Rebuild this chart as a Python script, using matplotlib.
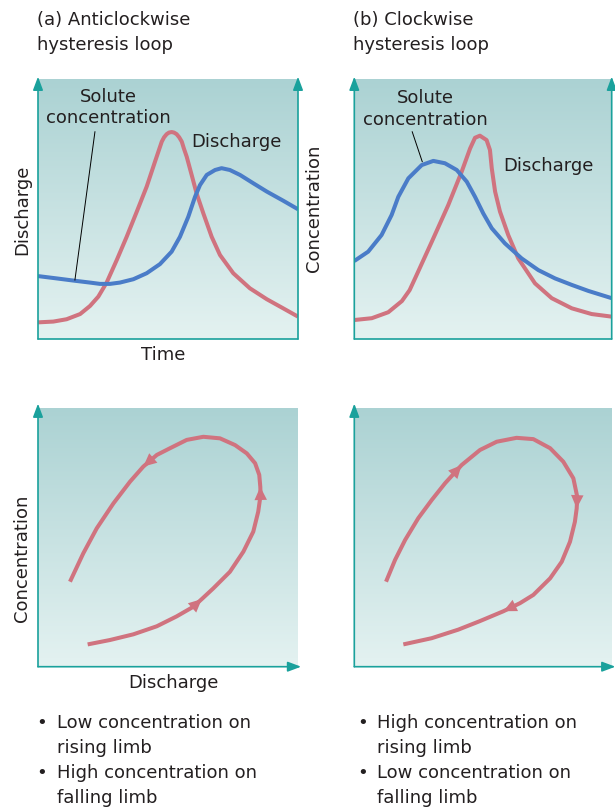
import numpy as np
import matplotlib.pyplot as plt
from matplotlib.colors import LinearSegmentedColormap

plt.rcParams['font.family'] = ['DejaVu Sans']

# --- data (each box is 0..100 in both directions) ---
# (a) storm hydrograph with anticlockwise response
time_a = [0, 5.9, 11.0, 16.2, 20.0, 23.2, 26.4, 30.3, 34.1, 38.0, 41.8, 45.0, 47.6, 48.5,
          49.5, 50.4, 51.4, 52.3, 53.3, 54.3, 55.3, 56.1, 57.2, 59.1, 61.0, 63.6, 66.8,
          70.0, 75.1, 81.5, 88.0, 94.3, 100]
discharge_a = [6.4, 6.7, 7.6, 9.6, 12.7, 16.3, 21.7, 30.4, 39.3, 49.0, 58.6, 68.2, 75.9, 77.6,
               78.8, 79.4, 79.6, 79.4, 78.8, 77.6, 75.9, 73.3, 70.1, 63.1, 56.0, 48.3, 39.3,
               32.3, 25.3, 19.5, 15.3, 11.8, 8.6]
time_a_conc = [0, 7.2, 14.2, 20, 23.8, 27.7, 31.5, 36.7, 41.8, 46.9, 51.4, 54.6, 57.8, 60.4,
               62.3, 64.9, 68.1, 70.6, 73.8, 77.7, 82.8, 88, 94.3, 100]
conc_a = [24.2, 23.3, 22.4, 21.7, 21.2, 21.2, 21.7, 23, 25.3, 28.8, 33.6, 39.3, 47, 54.7,
          59.2, 63.1, 65, 65.7, 65, 63.1, 59.9, 56.7, 53.2, 49.9]

# (b) storm hydrograph with clockwise response
time_b = [0, 6.8, 13.2, 18.5, 21.5, 24.2, 30.1, 36.5, 41.7, 45.0, 46.9, 48.8, 51.4, 52.7,
          53.4, 54.7, 56.6, 59.8, 63.7, 70.2, 76.7, 84.5, 92.2, 100]
discharge_b = [7.3, 8.0, 10.3, 14.6, 18.8, 24.6, 37.4, 51.5, 64.3, 73.3, 77.4, 78.2, 76.5, 72.7,
               65.7, 56.7, 49.0, 40.0, 31.0, 21.4, 15.7, 11.8, 9.6, 8.6]
time_b_conc = [0, 5.4, 10.6, 14.5, 17.1, 21.0, 26.2, 30.7, 35.2, 39.8, 43.7, 46.9, 50.1, 53.4,
               58.5, 65.0, 71.5, 78, 84.5, 90.9, 100]
conc_b = [30.0, 33.6, 40.0, 47.7, 54.7, 61.8, 66.9, 68.5, 67.6, 65.0, 60.5, 54.7, 48.3, 42.6,
          36.8, 31.0, 26.5, 23.3, 20.8, 18.5, 15.7]

# hysteresis loops (concentration against discharge, in time order)
loop_q_a = [19.1, 27.7, 36.7, 45.7, 53.3, 59.7, 63.0, 67.4, 73.8, 79.0, 82.8, 84.7, 85.6, 85.5,
            85.1, 83.5, 80.3, 75.8, 70.0, 63.6, 57.2, 50.8, 45.7, 40.5, 35.4, 29.0, 22.6,
            17.4, 12.3]
loop_c_a = [8.6, 10.3, 12.5, 15.6, 19.4, 23.1, 26.1, 30.2, 36.6, 44.4, 52.1, 59.8, 66.2, 69.4,
            74.0, 78.5, 82.3, 85.5, 88.1, 88.7, 87.5, 84.3, 81.7, 77.2, 71.4, 63.0, 53.4,
            43.7, 32.8]
loop_q_b = [12.3, 15.8, 19.7, 24.8, 30.0, 35.2, 41.6, 48.7, 55.2, 62.9, 69.4, 75.9, 81.0, 84.9,
            86.4, 86.2, 85.5, 83.6, 80.4, 75.9, 69.4, 64.2, 57.8, 48.7, 40.3, 30.0, 19.0]
loop_c_b = [32.8, 41.2, 48.9, 57.3, 64.3, 70.8, 77.8, 83.6, 86.8, 88.3, 87.8, 84.3, 79.1, 72.7,
            65.6, 61.1, 55.9, 48.2, 40.5, 34.1, 27.7, 24.5, 21.4, 17.6, 14.3, 11.0, 8.6]
arrows_a = [6, 13, 23]   # points where the direction arrows sit
arrows_b = [6, 15, 22]

titles = ["(a) Anticlockwise\nhysteresis loop", "(b) Clockwise\nhysteresis loop"]
notes_a = [["Low concentration on", "rising limb"], ["High concentration on", "falling limb"]]
notes_b = [["High concentration on", "rising limb"], ["Low concentration on", "falling limb"]]

TEAL = '#1aa19c'
PINK = '#d0737f'
BLUE = '#4a7cc8'
INK = '#231f20'
FS = 13

W, H = 615, 807
fig = plt.figure(figsize=(W / 100, H / 100), dpi=100)


def px_axes(left, top, width, height):
    # place an axes using pixel positions measured from the top-left corner
    return fig.add_axes([left / W, 1 - (top + height) / H, width / W, height / H])


def shade(ax):
    cmap = LinearSegmentedColormap.from_list('bg', ['#e4f2f1', '#abd2d3'])
    ax.imshow(np.linspace(0, 1, 256).reshape(-1, 1), cmap=cmap, origin='lower',
              extent=[0, 100, 0, 100], aspect='auto', zorder=0)
    ax.set_xlim(0, 100)
    ax.set_ylim(0, 100)
    ax.set_xticks([])
    ax.set_yticks([])
    for s in ax.spines.values():
        s.set_visible(False)


def axis_arrow(ax, start, end, head=True):
    style = '-|>,head_length=0.8,head_width=0.3' if head else '-'
    ax.annotate('', xy=end, xytext=start, annotation_clip=False,
                arrowprops=dict(arrowstyle=style, color=TEAL, lw=1.2,
                                shrinkA=0, shrinkB=0, mutation_scale=10))


def curve(ax, xs, ys, color):
    ax.plot(xs, ys, color=color, lw=2.9, solid_capstyle='butt', solid_joinstyle='round')


def flow_arrows(ax, xs, ys, idx):
    for i in idx:
        ax.annotate('', xy=(xs[i], ys[i]), xytext=(xs[i - 1], ys[i - 1]),
                    arrowprops=dict(arrowstyle='-|>,head_length=0.95,head_width=0.45',
                                    color=PINK, lw=0, shrinkA=0, shrinkB=0,
                                    mutation_scale=10))


# ---------- top row: hydrographs ----------
ax1 = px_axes(38, 79, 260, 260)
ax2 = px_axes(354.3, 79, 257.4, 260)
for ax in (ax1, ax2):
    shade(ax)
    axis_arrow(ax, (0, 0), (0, 100.9))
    axis_arrow(ax, (100, 0), (100, 100.9))
    axis_arrow(ax, (0, 0), (100, 0), head=False)

curve(ax1, time_a, discharge_a, PINK)
curve(ax1, time_a_conc, conc_a, BLUE)
ax1.plot([21.9, 14.2], [79.7, 22.7], color='black', lw=0.7)
ax1.text(27.0, 89, "Solute\nconcentration", ha='center', va='center', fontsize=FS,
         color=INK, linespacing=1.25)
ax1.text(76.4, 75.9, "Discharge", ha='center', va='center', fontsize=FS, color=INK)

curve(ax2, time_b, discharge_b, PINK)
curve(ax2, time_b_conc, conc_b, BLUE)
ax2.plot([22.5, 26.4], [79.7, 68.2], color='black', lw=0.7)
ax2.text(27.5, 88.5, "Solute\nconcentration", ha='center', va='center', fontsize=FS,
         color=INK, linespacing=1.25)
ax2.text(75.4, 66.5, "Discharge", ha='center', va='center', fontsize=FS, color=INK)

# ---------- bottom row: C-Q loops ----------
ax3 = px_axes(38, 407.5, 260, 259.2)
ax4 = px_axes(354.3, 407.5, 258, 259.2)
for ax in (ax3, ax4):
    shade(ax)
    axis_arrow(ax, (0, 0), (0, 101.5))
    axis_arrow(ax, (0, 0), (101.2, 0))

curve(ax3, loop_q_a, loop_c_a, PINK)
flow_arrows(ax3, loop_q_a, loop_c_a, arrows_a)
curve(ax4, loop_q_b, loop_c_b, PINK)
flow_arrows(ax4, loop_q_b, loop_c_b, arrows_b)

# ---------- axis labels ----------
fig.text(22 / W, 1 - 210 / H, "Discharge", rotation=90, ha='center', va='center',
         fontsize=FS, color=INK)
fig.text(314 / W, 1 - 208 / H, "Concentration", rotation=90, ha='center', va='center',
         fontsize=FS, color=INK)
fig.text(22 / W, 1 - 558 / H, "Concentration", rotation=90, ha='center', va='center',
         fontsize=FS, color=INK)
fig.text(163 / W, 1 - 355 / H, "Time", ha='center', va='center', fontsize=FS, color=INK)
fig.text(173 / W, 1 - 683 / H, "Discharge", ha='center', va='center', fontsize=FS, color=INK)

# ---------- titles and notes ----------
for x0, title in zip([37, 353], titles):
    for k, line in enumerate(title.split("\n")):
        fig.text(x0 / W, 1 - (25 + 24.5 * k) / H, line, ha='left', va='baseline',
                 fontsize=FS, color=INK)

for xb, xt, notes in [(36, 57, notes_a), (357, 377, notes_b)]:
    row = 0
    for item in notes:
        fig.text(xb / W, 1 - (728 + 25 * row) / H, "\u2022", ha='left', va='baseline',
                 fontsize=FS, color=INK)
        for line in item:
            fig.text(xt / W, 1 - (728 + 25 * row) / H, line, ha='left', va='baseline',
                     fontsize=FS, color=INK)
            row += 1

fig.savefig("out.png", dpi=100)
